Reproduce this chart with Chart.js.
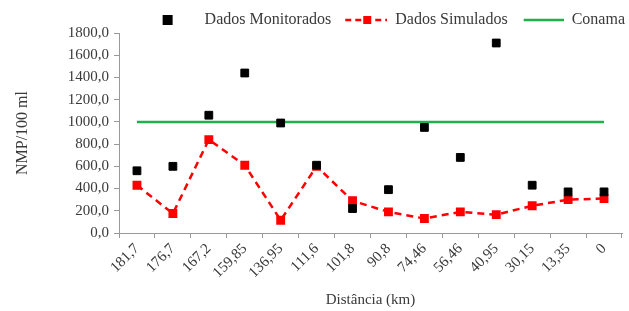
<!DOCTYPE html>
<html>
<head>
<meta charset="utf-8">
<script src="https://cdn.jsdelivr.net/npm/chart.js@4.4.0/dist/chart.umd.min.js"></script>
<style>
  html, body { margin: 0; padding: 0; background: #fff; }
  #wrap { width: 629px; height: 311px; }
</style>
</head>
<body>
<div id="wrap"><canvas id="qualidadeChart"></canvas></div>
<script>
'use strict';

// distancias (km) ao longo do rio
var distancias = ['181,7', '176,7', '167,2', '159,85', '136,95', '111,6', '101,8',
                  '90,8', '74,46', '56,46', '40,95', '30,15', '13,35', '0'];

// NMP/100 ml
var monitorados = [560, 600, 1060, 1440, 990, 610, 220, 390, 950, 680, 1710, 430, 370, 370];
var simulados   = [430, 175, 840, 610, 115, 600, 290, 190, 130, 190, 165, 245, 300, 310];
var conama      = [1000, 1000, 1000, 1000, 1000, 1000, 1000, 1000, 1000, 1000, 1000, 1000, 1000, 1000];

var textColor = '#3a3a3a';
var fonte = '"Liberation Serif", "Times New Roman", serif';

// small canvases used as legend symbols
function legendIcon(draw) {
    var c = document.createElement('canvas');
    c.width = 44;
    c.height = 14;
    draw(c.getContext('2d'));
    return c;
}
var iconMonit = legendIcon(function (ctx) {
    ctx.fillStyle = '#000';
    ctx.fillRect(10, 2, 10, 10);
});
var iconSimul = legendIcon(function (ctx) {
    ctx.strokeStyle = '#ff0000';
    ctx.lineWidth = 2.5;
    ctx.setLineDash([6, 4]);
    ctx.beginPath();
    ctx.moveTo(2, 7);
    ctx.lineTo(44, 7);
    ctx.stroke();
    ctx.fillStyle = '#ff0000';
    ctx.fillRect(20, 3, 8, 8);
});
var iconConama = legendIcon(function (ctx) {
    ctx.strokeStyle = '#22b04b';
    ctx.lineWidth = 2.5;
    ctx.beginPath();
    ctx.moveTo(4, 7);
    ctx.lineTo(44, 7);
    ctx.stroke();
});
var icons = [iconMonit, iconSimul, iconConama];

// legend a bit shorter and pushed to the right edge
var legendFit = {
    id: 'legendFit',
    beforeInit: function (chart) {
        var legend = chart.legend;
        var fit = legend.fit;
        legend.fit = function () {
            fit.call(this);
            this.height -= 5;
        };
    },
    afterLayout: function (chart) {
        chart.legend.right += 10;
    }
};

var ctx = document.getElementById('qualidadeChart').getContext('2d');
var chart = new Chart(ctx, {
    type: 'line',
    data: {
        labels: distancias,
        datasets: [{
            label: 'Dados Monitorados',
            data: monitorados,
            showLine: false,
            pointStyle: 'rect',
            pointRadius: 5.5,
            pointBackgroundColor: '#000',
            pointBorderColor: '#000',
            borderColor: '#000',
            backgroundColor: '#000',
            order: 1
        }, {
            label: 'Dados Simulados',
            data: simulados,
            borderColor: '#ff0000',
            backgroundColor: '#ff0000',
            borderWidth: 2.5,
            borderDash: [7, 5],
            pointStyle: 'rect',
            pointRadius: 4.5,
            pointBackgroundColor: '#ff0000',
            pointBorderColor: '#ff0000',
            tension: 0,
            order: 2
        }, {
            label: 'Conama',
            data: conama,
            borderColor: '#22b04b',
            backgroundColor: '#22b04b',
            borderWidth: 2.5,
            pointRadius: 0,
            order: 3
        }]
    },
    plugins: [legendFit],
    options: {
        responsive: true,
        maintainAspectRatio: false,
        animation: false,
        layout: { padding: { left: 4, right: 2, top: 0, bottom: 2 } },
        plugins: {
            tooltip: { enabled: false },
            legend: {
                position: 'top',
                align: 'end',
                labels: {
                    usePointStyle: true,
                    pointStyleWidth: 44,
                    color: textColor,
                    font: { family: fonte, size: 16 },
                    padding: 12,
                    generateLabels: function (ch) {
                        return ch.data.datasets.map(function (ds, i) {
                            return {
                                text: ds.label,
                                pointStyle: icons[i],
                                fontColor: textColor,
                                lineWidth: 0,
                                datasetIndex: i
                            };
                        });
                    }
                }
            }
        },
        scales: {
            x: {
                offset: true,
                afterFit: function (scale) { scale.height = 76; },
                grid: {
                    offset: true,
                    drawOnChartArea: false,
                    drawTicks: true,
                    tickLength: 5,
                    color: '#999'
                },
                border: { color: '#999', width: 1 },
                ticks: {
                    minRotation: 45,
                    maxRotation: 45,
                    autoSkip: false,
                    padding: 2,
                    color: textColor,
                    font: { family: fonte, size: 15 }
                },
                title: {
                    display: true,
                    text: 'Distância (km)',
                    color: textColor,
                    font: { family: fonte, size: 15 },
                    padding: { top: 0, bottom: 0 }
                }
            },
            y: {
                min: 0,
                max: 1800,
                afterFit: function (scale) { scale.width = 115; },
                grid: {
                    drawOnChartArea: false,
                    tickLength: 5,
                    color: '#999'
                },
                border: { color: '#999', width: 1 },
                ticks: {
                    stepSize: 200,
                    padding: 5,
                    color: textColor,
                    font: { family: fonte, size: 15 },
                    callback: function (v) { return v.toFixed(1).replace('.', ','); }
                },
                title: {
                    display: true,
                    text: 'NMP/100 ml',
                    color: textColor,
                    font: { family: fonte, size: 16 },
                    padding: { top: 9, bottom: 0 }
                }
            }
        }
    }
});
</script>
</body>
</html>
